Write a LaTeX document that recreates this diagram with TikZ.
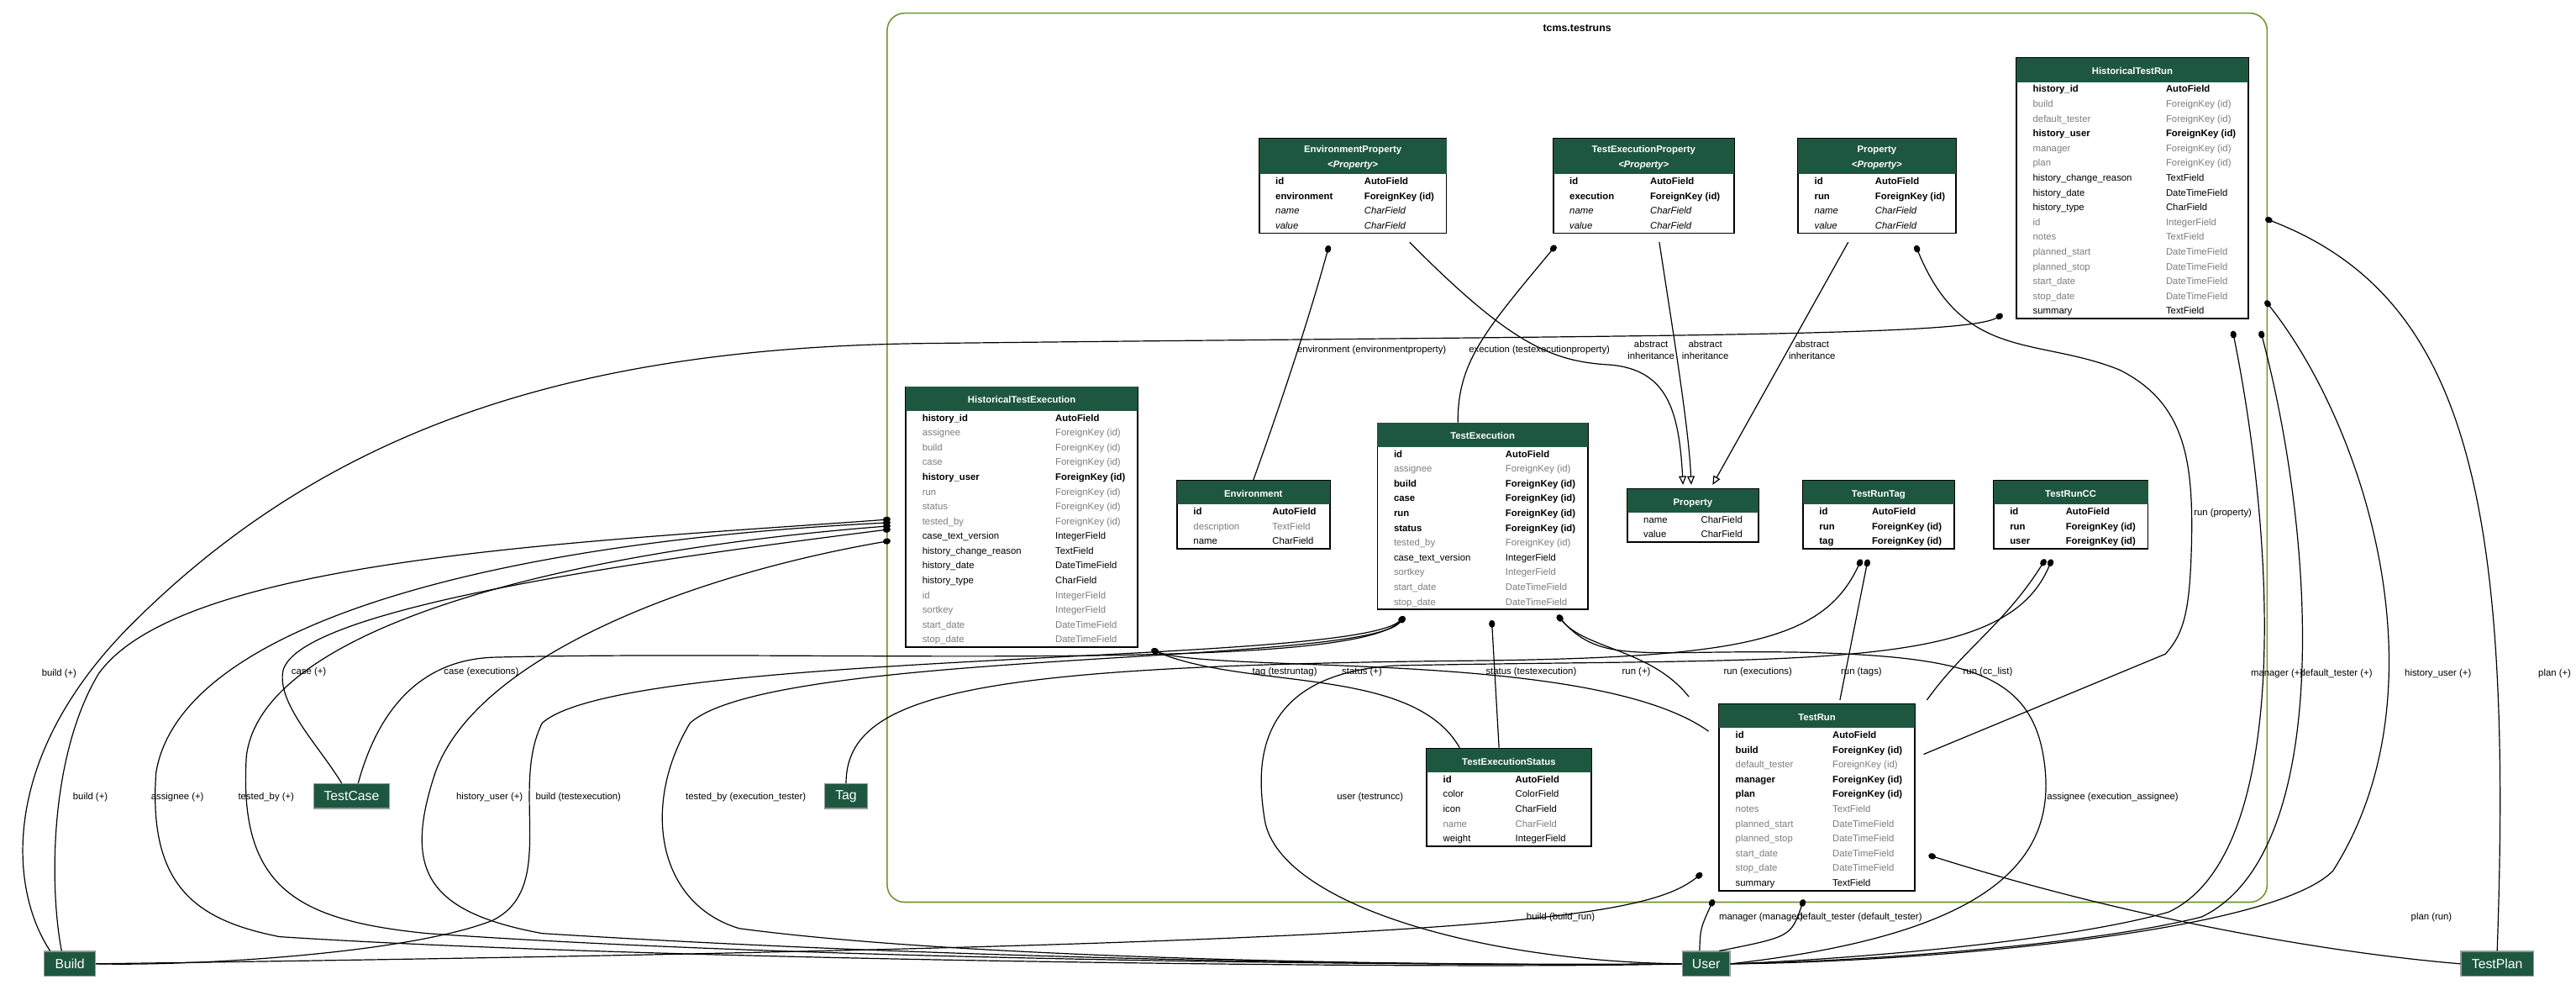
\documentclass[tikz,border=0pt]{standalone}
\usepackage{fontspec}
\setmainfont{Liberation Sans}
\usepackage[table]{xcolor}
\usepackage{tikz}
\usetikzlibrary{positioning,calc,arrows.meta}
\definecolor{hdr}{RGB}{30,87,64}
\definecolor{grp}{RGB}{110,150,40}
\definecolor{dim}{RGB}{125,125,125}
\tikzstyle{model} = [draw=black, line width=0.5pt, inner sep=0pt, anchor=north west, font=\fontsize{3.3}{5.12}\selectfont]
\tikzstyle{app} = [fill=hdr, text=white, draw=black!40, minimum width=6.2mm, minimum height=3mm, inner sep=0pt, font=\fontsize{4.6}{5}\selectfont]
\tikzstyle{lbl} = [inner sep=0pt, align=center, font=\fontsize{3.3}{3.9}\selectfont]
\tikzstyle{fk} = [line width=0.35pt, {Ellipse[length=2.6pt,width=2.1pt]}-]
\tikzstyle{inh} = [line width=0.35pt, -{Triangle[open,length=3pt,width=2.6pt]}]
\newcommand{\rowB}[2]{\textbf{#1}&\textbf{#2}\\}
\newcommand{\rowG}[2]{\textcolor{dim}{#1}&\textcolor{dim}{#2}\\}
\newcommand{\rowI}[2]{\textit{#1}&\textit{#2}\\}
\newcommand{\rowN}[2]{#1&#2\\}
\newcommand{\model}[4]{\begin{tabular}{@{\hspace{2mm}}p{#1}@{}p{#2}@{}}
\multicolumn{2}{@{}>{\columncolor{hdr}[0pt][0pt]}c@{}}{\color{white}\bfseries\rule[-0.9mm]{0pt}{2.9mm}#3}\\
#4\end{tabular}}
\newcommand{\absmodel}[1]{\rule[-1.6mm]{0pt}{4.3mm}\begin{tabular}{@{}c@{}}#1\\\textit{<Property>}\end{tabular}}

\begin{document}
\begin{tikzpicture}[x=0.2mm, y=-0.2mm]
\useasboundingbox (0,0) rectangle (1568,602);
\draw[grp, line width=0.45pt, rounded corners=6] (540,8) rectangle (1380,549);
\node[font=\fontsize{3.6}{4}\selectfont\bfseries] (grplabel) at (960,17) {tcms.testruns};

% models
\node[model] (htr) at (1227,35) {\model{16.2mm}{10mm}{HistoricalTestRun}{
\rowB{history\_id}{AutoField}\rowG{build}{ForeignKey (id)}\rowG{default\_tester}{ForeignKey (id)}
\rowB{history\_user}{ForeignKey (id)}\rowG{manager}{ForeignKey (id)}\rowG{plan}{ForeignKey (id)}
\rowN{history\_change\_reason}{TextField}\rowN{history\_date}{DateTimeField}\rowN{history\_type}{CharField}
\rowG{id}{IntegerField}\rowG{notes}{TextField}\rowG{planned\_start}{DateTimeField}\rowG{planned\_stop}{DateTimeField}
\rowG{start\_date}{DateTimeField}\rowG{stop\_date}{DateTimeField}\rowN{summary}{TextField}}};
\node[model] (ep) at (766,84) {\model{10.8mm}{10mm}{\absmodel{EnvironmentProperty}}{
\rowB{id}{AutoField}\rowB{environment}{ForeignKey (id)}\rowI{name}{CharField}\rowI{value}{CharField}}};
\node[model] (tep) at (945,84) {\model{9.8mm}{10.2mm}{\absmodel{TestExecutionProperty}}{
\rowB{id}{AutoField}\rowB{execution}{ForeignKey (id)}\rowI{name}{CharField}\rowI{value}{CharField}}};
\node[model] (pa) at (1094,84) {\model{7.4mm}{9.8mm}{\absmodel{Property}}{
\rowB{id}{AutoField}\rowB{run}{ForeignKey (id)}\rowI{name}{CharField}\rowI{value}{CharField}}};
\node[model] (hte) at (551,235) {\model{16.2mm}{10mm}{HistoricalTestExecution}{
\rowB{history\_id}{AutoField}\rowG{assignee}{ForeignKey (id)}\rowG{build}{ForeignKey (id)}\rowG{case}{ForeignKey (id)}
\rowB{history\_user}{ForeignKey (id)}\rowG{run}{ForeignKey (id)}\rowG{status}{ForeignKey (id)}\rowG{tested\_by}{ForeignKey (id)}
\rowN{case\_text\_version}{IntegerField}\rowN{history\_change\_reason}{TextField}\rowN{history\_date}{DateTimeField}
\rowN{history\_type}{CharField}\rowG{id}{IntegerField}\rowG{sortkey}{IntegerField}\rowG{start\_date}{DateTimeField}
\rowG{stop\_date}{DateTimeField}}};
\node[model] (env) at (716,292) {\model{9.6mm}{7mm}{Environment}{
\rowB{id}{AutoField}\rowG{description}{TextField}\rowN{name}{CharField}}};
\node[model] (te) at (838,257) {\model{13.6mm}{10mm}{TestExecution}{
\rowB{id}{AutoField}\rowG{assignee}{ForeignKey (id)}\rowB{build}{ForeignKey (id)}\rowB{case}{ForeignKey (id)}
\rowB{run}{ForeignKey (id)}\rowB{status}{ForeignKey (id)}\rowG{tested\_by}{ForeignKey (id)}
\rowN{case\_text\_version}{IntegerField}\rowG{sortkey}{IntegerField}\rowG{start\_date}{DateTimeField}\rowG{stop\_date}{DateTimeField}}};
\node[model] (pr) at (990,297) {\model{7mm}{7mm}{Property}{
\rowN{name}{CharField}\rowN{value}{CharField}}};
\node[model] (trt) at (1097,292) {\model{6.4mm}{10mm}{TestRunTag}{
\rowB{id}{AutoField}\rowB{run}{ForeignKey (id)}\rowB{tag}{ForeignKey (id)}}};
\node[model] (trc) at (1213,292) {\model{6.8mm}{10mm}{TestRunCC}{
\rowB{id}{AutoField}\rowB{run}{ForeignKey (id)}\rowB{user}{ForeignKey (id)}}};
\node[model] (tes) at (868,455) {\model{8.8mm}{9.2mm}{TestExecutionStatus}{
\rowB{id}{AutoField}\rowN{color}{ColorField}\rowN{icon}{CharField}\rowG{name}{CharField}\rowN{weight}{IntegerField}}};
\node[model] (tr) at (1046,428) {\model{11.8mm}{10mm}{TestRun}{
\rowB{id}{AutoField}\rowB{build}{ForeignKey (id)}\rowG{default\_tester}{ForeignKey (id)}\rowB{manager}{ForeignKey (id)}
\rowB{plan}{ForeignKey (id)}\rowG{notes}{TextField}\rowG{planned\_start}{DateTimeField}\rowG{planned\_stop}{DateTimeField}
\rowG{start\_date}{DateTimeField}\rowG{stop\_date}{DateTimeField}\rowN{summary}{TextField}}};

% other apps
\node[app] (build) at (42.5,586.5) {Build};
\node[app, minimum width=9.2mm] (tc) at (214,484.5) {TestCase};
\node[app, minimum width=5.2mm] (tag) at (515,484.5) {Tag};
\node[app, minimum width=5.8mm] (user) at (1038.5,586.5) {User};
\node[app, minimum width=8.8mm] (tplan) at (1520,586.5) {TestPlan};

% properties
\draw[fk] ($(ep.south west)+(43,7)$) .. controls (795,200) and (778,250) .. (env.north);
\draw[inh] ($(ep.south west)+(92,5)$) .. controls (920,210) and (945,220) .. (980,222) .. controls (1015,225) and (1022,250) .. ($(pr.north)+(-6,-2)$);
\draw[fk] ($(tep.south west)+(2,7)$) .. controls (905,200) and (887,220) .. ($(te.north)+(-15,0)$);
\draw[inh] ($(tep.south west)+(65,5)$) .. controls (1018,200) and (1028,260) .. ($(pr.north)+(-1,-2)$);
\draw[inh] ($(pa.south west)+(31,5)$) -- ($(pr.north)+(12,-2)$);
\draw[fk] ($(pa.south west)+(72,7)$) .. controls (1195,220) and (1240,205) .. (1290,225) .. controls (1330,245) and (1335,280) .. (1334,330) .. controls (1333,370) and (1330,385) .. (1318,398) -- ($(tr.north east)+(5,31)$);

% historical test run
\draw[fk] ($(htr.south west)+(-8,-3)$) .. controls (1195,205) and (1000,204) .. (560,209) .. controls (350,212) and (200,260) .. (80,380) .. controls (0,460) and (5,540) .. ($(build.north)+(-12,0)$);
\draw[fk] ($(htr.south west)+(132,7)$) .. controls (1385,330) and (1395,520) .. (1320,555) .. controls (1250,575) and (1100,585) .. (user.east);
\draw[fk] ($(htr.south west)+(149,7)$) .. controls (1410,330) and (1420,520) .. (1340,558) .. controls (1260,578) and (1100,586) .. (user.east);
\draw[fk] ($(htr.north east)+(10,148)$) .. controls (1440,260) and (1490,420) .. (1420,530) .. controls (1380,570) and (1150,586) .. (user.east);
\draw[fk] ($(htr.north east)+(10,98)$) .. controls (1500,180) and (1530,300) .. (tplan.north);

% historical test execution
\draw[fk] ($(hte.north west)+(-9,81)$) .. controls (350,330) and (110,340) .. (60,410) .. controls (30,460) and (30,540) .. ($(build.north)+(-5,0)$);
\draw[fk] ($(hte.north west)+(-9,83)$) .. controls (300,330) and (110,380) .. (95,470) .. controls (90,540) and (120,560) .. (170,570) .. controls (400,585) and (900,590) .. (user.west);
\draw[fk] ($(hte.north west)+(-9,85)$) .. controls (350,335) and (160,380) .. (150,460) .. controls (145,540) and (180,560) .. (260,568) .. controls (500,585) and (900,588) .. (user.west);
\draw[fk] ($(hte.north west)+(-9,87)$) .. controls (400,340) and (175,370) .. (172,410) .. controls (170,430) and (195,455) .. ($(tc.north)+(-6,0)$);
\draw[fk] ($(hte.north west)+(-9,94)$) .. controls (420,350) and (290,400) .. (265,470) .. controls (245,530) and (260,555) .. (330,568) .. controls (600,585) and (900,588) .. (user.west);
\draw[fk] ($(hte.south east)+(8,1)$) .. controls (740,410) and (970,395) .. ($(tr.north west)+(-6,17)$);
\draw[fk] ($(hte.south east)+(8,1)$) .. controls (760,420) and (860,405) .. ($(tes.north)+(-30,0)$);

% test execution
\draw[fk] ($(te.south west)+(17,4)$) .. controls (820,410) and (500,395) .. (300,400) .. controls (250,402) and (228,440) .. ($(tc.north)+(4,0)$);
\draw[fk] ($(te.south west)+(17,4)$) .. controls (820,405) and (380,395) .. (330,440) .. controls (310,480) and (340,540) .. (300,560) .. controls (250,580) and (120,588) .. (build.east);
\draw[fk] ($(te.south west)+(17,4)$) .. controls (830,405) and (470,395) .. (420,440) .. controls (390,490) and (400,550) .. (450,565) .. controls (600,585) and (900,588) .. (user.west);
\draw[fk] ($(te.south west)+(70,6)$) -- ($(tes.north)+(-6,0)$);
\draw[fk] ($(te.south west)+(110,3)$) .. controls (965,395) and (1005,395) .. ($(tr.north west)+(-18,-4)$);
\draw[fk] ($(te.south west)+(110,3)$) .. controls (975,405) and (1000,395) .. (1100,397) .. controls (1200,400) and (1240,410) .. (1245,470) .. controls (1250,530) and (1200,570) .. (user.east);

% run tags and cc
\draw[fk] ($(trt.south west)+(36,6)$) .. controls (1110,390) and (1060,400) .. (900,402) .. controls (600,405) and (515,420) .. (tag.north);
\draw[fk] ($(trt.south west)+(40,6)$) -- ($(tr.north)+(14,-2)$);
\draw[fk] ($(trc.south west)+(32,6)$) .. controls (1220,380) and (1195,395) .. ($(tr.north east)+(7,-2)$);
\draw[fk] ($(trc.south west)+(36,6)$) .. controls (1220,410) and (1100,400) .. (850,405) .. controls (760,410) and (765,470) .. (770,500) .. controls (780,550) and (900,585) .. (user.west);

% test run
\draw[fk] ($(tr.south west)+(-10,-11)$) .. controls (1000,560) and (900,575) .. (build.east);
\draw[fk] ($(tr.south west)+(-3,5)$) .. controls (1035,565) .. ($(user.north)+(-4,0)$);
\draw[fk] ($(tr.south west)+(52,5)$) .. controls (1090,570) .. ($(user.north)+(8,0)$);
\draw[fk] ($(tr.south east)+(8,-22)$) .. controls (1300,560) and (1420,580) .. (tplan.west);

% labels
\foreach \x/\y/\t [count=\i] in {835/213/{environment (environmentproperty)}, 937/213/{execution (testexecutionproperty)},
  1005/213/{abstract\\inheritance}, 1038/213/{abstract\\inheritance}, 1103/213/{abstract\\inheritance},
  1353/312/{run (property)}, 36/410/{build (+)}, 188/409/{case (+)}, 293/409/{case (executions)},
  782/409/{tag (testruntag)}, 829/409/{status (+)}, 932/409/{status (testexecution)}, 996/409/{run (+)},
  1070/409/{run (executions)}, 1133/409/{run (tags)}, 1210/409/{run (cc\_list)},
  1386/410/{manager (+)}, 1422/410/{default\_tester (+)}, 1484/410/{history\_user (+)}, 1555/410/{plan (+)},
  55/485/{build (+)}, 108/485/{assignee (+)}, 162/485/{tested\_by (+)}, 298/485/{history\_user (+)},
  352/485/{build (testexecution)}, 454/485/{tested\_by (execution\_tester)}, 834/485/{user (testruncc)},
  1286/485/{assignee (execution\_assignee)}, 950/558/{build (build\_run)}, 1072/558/{manager (manager)},
  1132/558/{default\_tester (default\_tester)}, 1480/558/{plan (run)}}
  \node[lbl] (lab\i) at (\x,\y) {\t};
\end{tikzpicture}
\end{document}
